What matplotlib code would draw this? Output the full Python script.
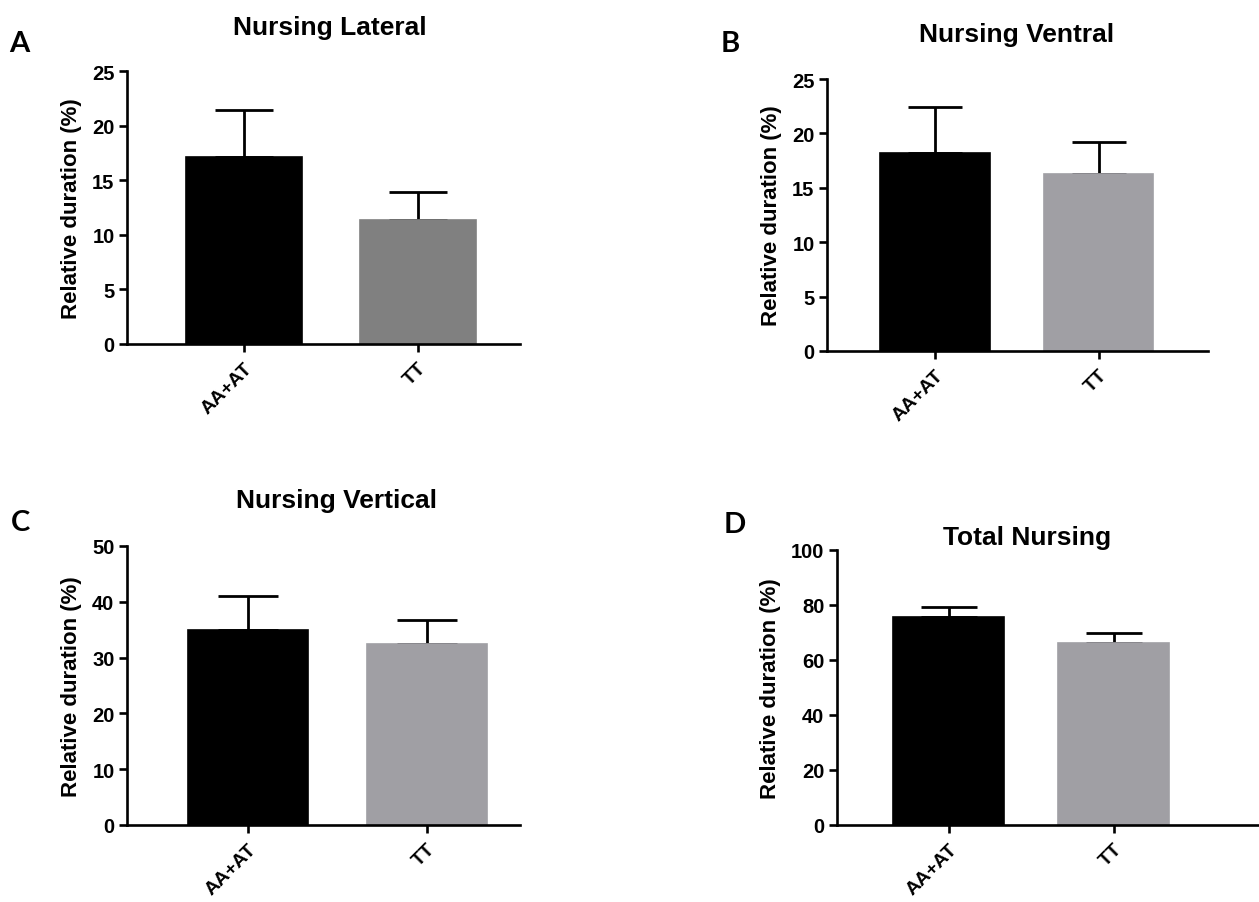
import matplotlib
matplotlib.use("Agg")
import matplotlib.pyplot as plt
import numpy as np

plt.rcParams['font.family'] = ['Liberation Sans', 'DejaVu Sans']

groups = ["AA+AT", "TT"]

lateral_mean = [17.1, 11.4]
lateral_err = [4.3, 2.5]
ventral_mean = [18.2, 16.3]
ventral_err = [4.2, 2.9]
vertical_mean = [35.0, 32.5]
vertical_err = [6.0, 4.3]
total_mean = [75.5, 66.1]
total_err = [3.8, 3.9]

titles = ["Nursing Lateral", "Nursing Ventral", "Nursing Vertical", "Total Nursing"]
letters = ["A", "B", "C", "D"]
yticks_list = [[0, 5, 10, 15, 20, 25], [0, 5, 10, 15, 20, 25],
               [0, 10, 20, 30, 40, 50], [0, 20, 40, 60, 80, 100]]
ylabel = "Relative duration (%)"

W, H = 1259, 903
fig = plt.figure(figsize=(W / 100, H / 100), dpi=100)

panels = [
    dict(l=127, r=520, t=72, b=345, xlim=(-0.672, 1.586), gray="#808080",
         mean=lateral_mean, err=lateral_err, title_xy=(330, 28), letter_xy=(19, 44)),
    dict(l=827, r=1208, t=80, b=352, xlim=(-0.662, 1.67), gray="#a09fa4",
         mean=ventral_mean, err=ventral_err, title_xy=(1017, 35), letter_xy=(730, 44)),
    dict(l=127, r=520, t=547, b=826, xlim=(-0.676, 1.52), gray="#a09fa4",
         mean=vertical_mean, err=vertical_err, title_xy=(337, 501), letter_xy=(20, 523)),
    dict(l=837, r=1259, t=551, b=826, xlim=(-0.677, 1.88), gray="#a09fa4",
         mean=total_mean, err=total_err, title_xy=(1027, 538), letter_xy=(735, 525)),
]

bar_w = 0.67
for i, p in enumerate(panels):
    ax = fig.add_axes([p['l'] / W, 1 - p['b'] / H, (p['r'] - p['l']) / W, (p['b'] - p['t']) / H])
    x = np.arange(len(groups))
    colors = ["black", p['gray']]
    px_per_unit = (p['r'] - p['l']) / (p['xlim'][1] - p['xlim'][0])
    cap = bar_w * px_per_unit / 4 / (100 / 72)
    ax.errorbar(x, p['mean'], yerr=[[0, 0], p['err']], fmt='none', ecolor='black',
                elinewidth=2.0, capsize=cap, capthick=2.0, zorder=1)
    ax.bar(x, p['mean'], width=bar_w, color=colors, edgecolor=['black', p['gray']],
           linewidth=1.2, zorder=2)
    yt = yticks_list[i]
    ax.set_ylim(0, yt[-1])
    ax.set_yticks(yt)
    ax.set_xlim(*p['xlim'])
    ax.set_xticks(x)
    ax.set_xticklabels(groups, rotation=45, ha='right', rotation_mode='anchor',
                       fontsize=14, fontweight='bold')
    for lab in ax.get_yticklabels():
        lab.set_fontsize(14.5)
        lab.set_fontweight('bold')
    for s in ['top', 'right']:
        ax.spines[s].set_visible(False)
    for s in ['left', 'bottom']:
        ax.spines[s].set_linewidth(1.9)
    ax.tick_params(axis='both', width=1.9, length=6, direction='out', pad=3)
    ax.tick_params(axis='x', pad=5)
    ax.set_ylabel(ylabel, fontsize=16, fontweight='bold', labelpad=7)
    fig.text(p['title_xy'][0] / W, 1 - p['title_xy'][1] / H, titles[i],
             ha='center', va='center', fontsize=19, fontweight='bold')
    fig.text(p['letter_xy'][0] / W, 1 - p['letter_xy'][1] / H, letters[i],
             ha='center', va='center', fontsize=21, fontweight='bold', family=['Lato', 'DejaVu Sans'])

fig.savefig("out.png", dpi=100)
